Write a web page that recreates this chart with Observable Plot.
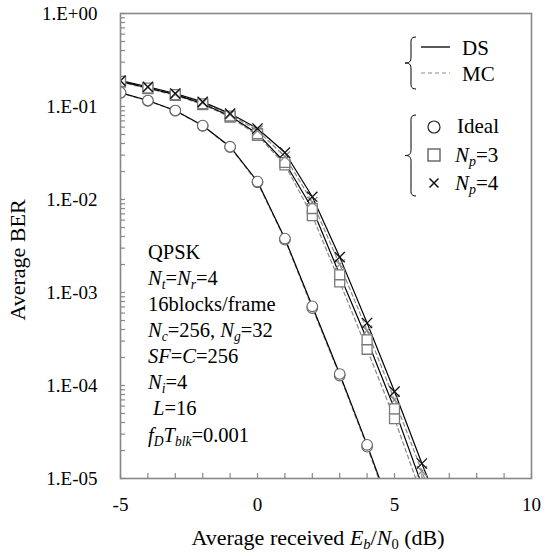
<!DOCTYPE html>
<html><head><meta charset="utf-8">
<script src="https://cdn.jsdelivr.net/npm/d3@7"></script>
<script src="https://cdn.jsdelivr.net/npm/@observablehq/plot@0.6"></script>
<style>body{margin:0;background:#fff}#chart{width:545px;height:556px}</style>
</head><body><div id="chart"></div>
<script>
// ---- data ----
const snr = [-5, -4, -3, -2, -1, 0, 1, 2, 3, 4, 5, 6, 7];
const idealDS = [0.141, 0.116, 0.0906, 0.0624, 0.037, 0.0156, 0.0038, 7.1e-4, 1.33e-4, 2.3e-5, 3.6e-6];
const idealMC = [0.140, 0.115, 0.0900, 0.0620, 0.0365, 0.0153, 0.0037, 6.8e-4, 1.28e-4, 2.2e-5, 3.4e-6];
const np3DS = [0.186, 0.158, 0.134, 0.107, 0.079, 0.051, 0.025, 0.0080, 0.00155, 3.1e-4, 5.6e-5, 8.5e-6];
const np3MC = [0.183, 0.156, 0.132, 0.105, 0.077, 0.049, 0.0236, 0.0067, 0.0013, 2.45e-4, 4.4e-5, 6.5e-6];
const np4DS = [0.190, 0.163, 0.138, 0.112, 0.084, 0.058, 0.032, 0.0107, 0.0024, 4.7e-4, 8.6e-5, 1.45e-5, 2.6e-6];
const np4MC = [0.188, 0.161, 0.136, 0.110, 0.082, 0.055, 0.029, 0.0094, 0.0020, 3.9e-4, 7.0e-5, 1.2e-5, 1.9e-6];
const xTicks = [-5, 0, 5, 10];
const yTicks = [1, 1e-1, 1e-2, 1e-3, 1e-4, 1e-5];
const xMinor = [-5,-4,-3,-2,-1,0,1,2,3,4,5,6,7,8,9,10];
const yMinor = [1];
for (let e = -1; e >= -5; e--) for (let m = 9; m >= 1; m--) yMinor.push(m * Math.pow(10, e));

const FONT = "'Liberation Serif', 'Times New Roman', serif";
const W = 545, H = 556, mL = 120, mR = 14, mT = 13, mB = 78;
const fw = W - mL - mR, fh = H - mT - mB;

function rows(arr) { return arr.map((v, i) => ({snr: snr[i], ber: v})).filter(d => d.ber != null); }
const fmt = d => { const e = Math.round(Math.log10(d)); return "1.E" + (e >= 0 ? "+" : "-") + String(Math.abs(e)).padStart(2, "0"); };

const lineDS = {x: "snr", y: "ber", stroke: "#000", strokeWidth: 1.2, clip: true};
const lineMC = {x: "snr", y: "ber", stroke: "#8a8a8a", strokeWidth: 1.2, strokeDasharray: "4,3", clip: true};
const circ = {x: "snr", y: "ber", symbol: "circle", r: 5.3, stroke: "#666", fill: "#fff", strokeWidth: 1.1, clip: true};
const sq = {x: "snr", y: "ber", symbol: "square", r: 5.6, stroke: "#7a7a7a", fill: "#fff", strokeWidth: 1.3, clip: true};

const chart = Plot.plot({
  width: W, height: H,
  marginLeft: mL, marginRight: mR, marginTop: mT, marginBottom: mB,
  style: {fontFamily: FONT, fontSize: "19px", background: "#fff", color: "#000"},
  x: {domain: [-5, 10], axis: null},
  y: {type: "log", domain: [1e-5, 1], axis: null},
  marks: [
    Plot.tickY(yMinor, {y: d => d, insetRight: fw - 5, stroke: "#888", strokeWidth: 1.2}),
    Plot.tickX(xMinor, {x: d => d, insetTop: fh - 5, stroke: "#888", strokeWidth: 1.2}),
    Plot.axisY({ticks: yTicks, tickFormat: fmt, tickSize: 0, tickPadding: 23, label: null, fontSize: 19, fill: "#000"}),
    Plot.axisX({ticks: xTicks, tickFormat: d => String(d), tickSize: 0, tickPadding: 19, label: null, fontSize: 19, fill: "#000"}),
    Plot.line(rows(idealMC), lineMC),
    Plot.line(rows(np3MC), lineMC),
    Plot.line(rows(np4MC), lineMC),
    Plot.line(rows(idealDS), lineDS),
    Plot.line(rows(np3DS), lineDS),
    Plot.line(rows(np4DS), lineDS),
    Plot.dot(rows(idealMC), circ),
    Plot.dot(rows(idealDS), circ),
    Plot.dot(rows(np3MC), sq),
    Plot.dot(rows(np3DS), sq),
    Plot.dot(rows(np4MC), {x: "snr", y: "ber", symbol: "times", r: 4.7, stroke: "#888", strokeWidth: 1.3, clip: true}),
    Plot.dot(rows(np4DS), {x: "snr", y: "ber", symbol: "times", r: 4.7, stroke: "#111", strokeWidth: 1.3, clip: true}),
    Plot.frame({stroke: "#888", strokeWidth: 1.6})
  ]
});
document.getElementById("chart").appendChild(chart);

// ---- rich text helpers (annotations, titles, legend) ----
const svg = d3.select(chart);
function rich(parent, x, y, parts, size = 19, anchor = "start") {
  const t = parent.append("text").attr("x", x).attr("y", y).attr("font-size", size)
    .attr("text-anchor", anchor).attr("font-family", FONT).attr("fill", "#000");
  let off = 0;
  parts.forEach(([s, st]) => {
    st = st || "";
    const sub = st.includes("sub");
    const target = sub ? size * 0.2 : 0;
    const ts = t.append("tspan").text(s).attr("dy", target - off);
    off = target;
    if (sub) ts.attr("font-size", size * 0.66);
    if (st.startsWith("i")) ts.attr("font-style", "italic");
  });
  return t;
}

// axis titles
rich(svg, 318, 545, [["Average received "], ["E", "i"], ["b", "isub"], ["/"], ["N", "i"], ["0", "sub"], [" (dB)"]], 22, "middle");
svg.append("text").attr("transform", "translate(25,260) rotate(-90)")
  .attr("text-anchor", "middle").attr("font-family", FONT).attr("font-size", 22).text("Average BER");

// annotation block
const ann = [
  [["QPSK"]],
  [["N", "i"], ["t", "isub"], ["="], ["N", "i"], ["r", "isub"], ["=4"]],
  [["16blocks/frame"]],
  [["N", "i"], ["c", "isub"], ["=256, "], ["N", "i"], ["g", "isub"], ["=32"]],
  [["SF", "i"], ["="], ["C", "i"], ["=256"]],
  [["N", "i"], ["i", "isub"], ["=4"]],
  [["L", "i"], ["=16"]],
  [["f", "i"], ["D", "isub"], ["T", "i"], ["blk", "isub"], ["=0.001"]]
];
const annBase = [259, 285, 311, 337, 363, 389, 415, 442];
ann.forEach((p, i) => rich(svg, i === 6 ? 153 : 148, annBase[i], p, 20.5));

// legend
const lg = svg.append("g").attr("fill", "none");
function brace(x, y0, y1) {
  const m = (y0 + y1) / 2;
  return `M${x + 6},${y0} C${x},${y0} ${x + 1},${y0 + 4} ${x + 1},${y0 + 10} L${x + 1},${m - 6} C${x + 1},${m - 1} ${x - 1},${m} ${x - 5},${m} C${x - 1},${m} ${x + 1},${m + 1} ${x + 1},${m + 6} L${x + 1},${y1 - 10} C${x + 1},${y1 - 4} ${x},${y1} ${x + 6},${y1}`;
}
lg.append("path").attr("d", brace(410, 37, 89)).attr("stroke", "#000").attr("stroke-width", 1);
lg.append("path").attr("d", brace(410, 115, 196)).attr("stroke", "#000").attr("stroke-width", 1);
lg.append("line").attr("x1", 421).attr("x2", 450).attr("y1", 47).attr("y2", 47).attr("stroke", "#000").attr("stroke-width", 1.3);
lg.append("line").attr("x1", 421).attr("x2", 450).attr("y1", 73).attr("y2", 73).attr("stroke", "#8a8a8a").attr("stroke-width", 1.2).attr("stroke-dasharray", "4,3");
lg.append("circle").attr("cx", 434).attr("cy", 127).attr("r", 6).attr("stroke", "#222").attr("stroke-width", 1.2).attr("fill", "#fff");
lg.append("rect").attr("x", 428).attr("y", 149).attr("width", 12).attr("height", 12).attr("stroke", "#555").attr("stroke-width", 1.3).attr("fill", "#fff");
lg.append("path").attr("d", "M429.5,178.5 L438.5,187.5 M438.5,178.5 L429.5,187.5").attr("stroke", "#111").attr("stroke-width", 1.5);
rich(svg, 462, 55, [["DS"]], 21);
rich(svg, 462, 81, [["MC"]], 21);
rich(svg, 457, 133, [["Ideal"]], 21);
rich(svg, 455, 162, [["N", "i"], ["p", "isub"], ["=3"]], 21);
rich(svg, 455, 190, [["N", "i"], ["p", "isub"], ["=4"]], 21);
</script>
</body></html>
